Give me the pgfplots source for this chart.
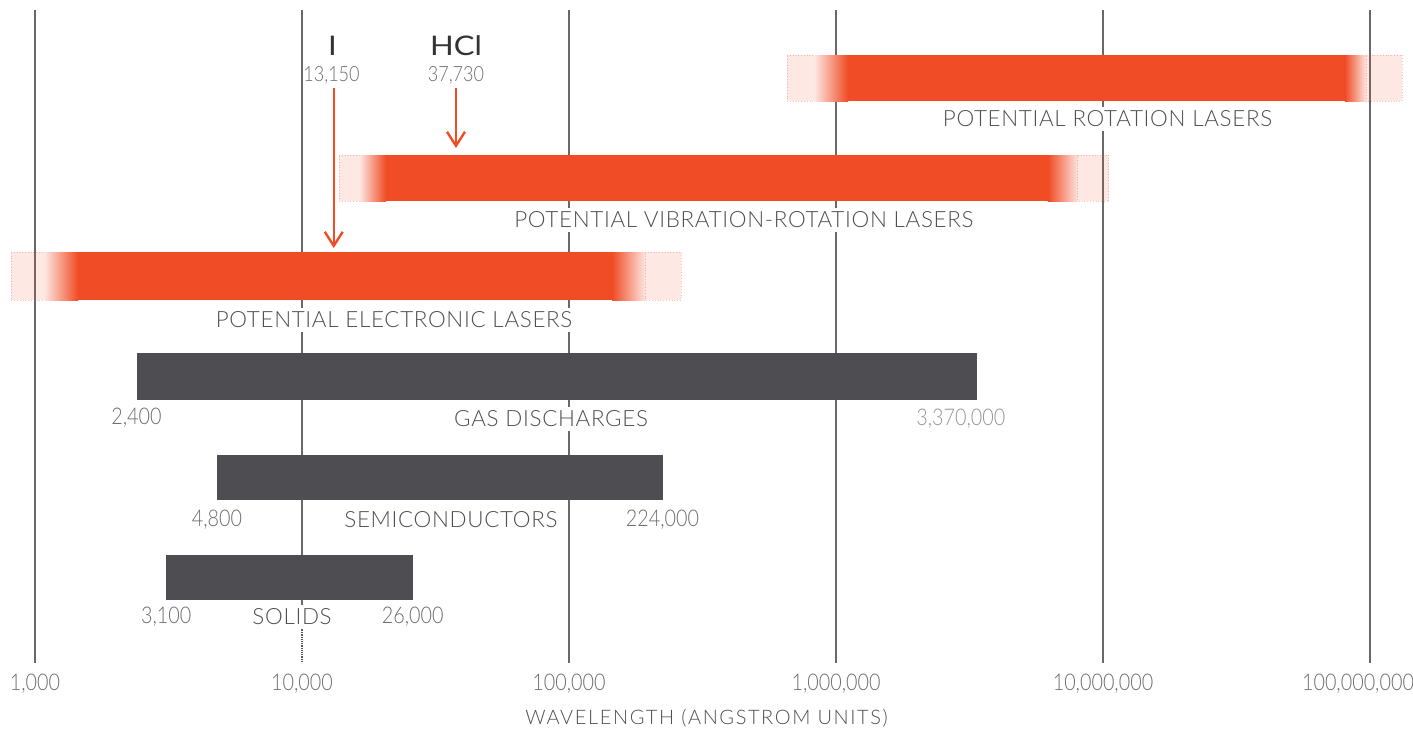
\documentclass[border=0pt]{standalone}
\usepackage{fontspec}
\setmainfont{Lato}[UprightFont=* Light]
\newfontfamily\markfont{Lato}[FakeStretch=1.15]
\newfontfamily\numfont{Lato}[UprightFont=* Light, FakeStretch=0.86]
\usepackage{pgfplots}
\pgfplotsset{compat=1.18}
\usetikzlibrary{arrows.meta}

\definecolor{laser}{RGB}{240,76,38}
\definecolor{source}{RGB}{78,77,82}
\definecolor{gridgray}{RGB}{105,105,105}
\definecolor{labgray}{RGB}{80,80,80}
\definecolor{numgray}{RGB}{110,110,110}
\definecolor{palegray}{RGB}{150,150,150}

\newcommand\labsize{\fontsize{11.2}{13}\selectfont\addfontfeatures{LetterSpace=3}}
\newcommand\axlabsize{\fontsize{10}{12}\selectfont\addfontfeatures{LetterSpace=8}}
\newcommand\numsize{\numfont\fontsize{11.5}{13}\selectfont}

\tikzset{
  barlabel/.style={fill=white, inner xsep=4pt, inner ysep=2pt, font=\labsize, text=labgray},
  numlabel/.style={fill=white, inner xsep=3pt, inner ysep=2pt, font=\numsize, text=numgray},
  pale/.style={fill=laser, fill opacity=0.13, draw=laser, draw opacity=0.35, densely dotted, line width=0.4pt},
}

\begin{document}
\begin{tikzpicture}
\begin{axis}[
  scale only axis,
  width=706.5pt, height=326.5pt,
  xmode=log, xmin=739.6, xmax=1.449e8,
  ymin=10, ymax=663, y dir=reverse,
  axis line style={draw=none},
  ytick=\empty,
  xtick={1000,10000,100000,1000000,10000000,100000000},
  xticklabels={{1,000},{10,000},{100,000},{1,000,000},{10,000,000},{\hspace*{-12pt}100,000,000}},
  major tick length=0pt, minor tick length=0pt,
  tick style={draw=none}, minor tick style={draw=none},
  xtick pos=bottom,
  xmajorgrids,
  grid style={color=gridgray, line width=0.7pt},
  xticklabel style={font=\numsize, text=numgray, yshift=-2pt},
  xlabel={WAVELENGTH (ANGSTROM UNITS)},
  xlabel style={font=\axlabsize, text=labgray, yshift=-1pt},
  clip=false,
]

% potential rotation lasers
\addplot[pale] coordinates {(655500,55) (834000,55) (834000,101) (655500,101)} -- cycle;
\addplot[draw=none, left color=laser!15, right color=laser] coordinates {(834000,55) (1.109e6,55) (1.109e6,101) (834000,101)} -- cycle;
\addplot[draw=none, fill=laser] coordinates {(1.109e6,55) (8.05e7,55) (8.05e7,101) (1.109e6,101)} -- cycle;
\addplot[draw=none, left color=laser, right color=laser!15] coordinates {(8.05e7,55) (9.66e7,55) (9.66e7,101) (8.05e7,101)} -- cycle;
\addplot[pale] coordinates {(9.66e7,55) (1.318e8,55) (1.318e8,101) (9.66e7,101)} -- cycle;

% potential vibration-rotation lasers
\addplot[pale] coordinates {(13770,155) (16480,155) (16480,201) (13770,201)} -- cycle;
\addplot[draw=none, left color=laser!15, right color=laser] coordinates {(16480,155) (20650,155) (20650,201) (16480,201)} -- cycle;
\addplot[draw=none, fill=laser] coordinates {(20650,155) (6.22e6,155) (6.22e6,201) (20650,201)} -- cycle;
\addplot[draw=none, left color=laser, right color=laser!15] coordinates {(6.22e6,155) (8.05e6,155) (8.05e6,201) (6.22e6,201)} -- cycle;
\addplot[pale] coordinates {(8.05e6,155) (1.052e7,155) (1.052e7,201) (8.05e6,201)} -- cycle;

% potential electronic lasers
\addplot[pale] coordinates {(813,252) (1090,252) (1090,300) (813,300)} -- cycle;
\addplot[draw=none, left color=laser!15, right color=laser] coordinates {(1090,252) (1449,252) (1449,300) (1090,300)} -- cycle;
\addplot[draw=none, fill=laser] coordinates {(1449,252) (144900,252) (144900,300) (1449,300)} -- cycle;
\addplot[draw=none, left color=laser, right color=laser!15] coordinates {(144900,252) (192800,252) (192800,300) (144900,300)} -- cycle;
\addplot[pale] coordinates {(192800,252) (262500,252) (262500,300) (192800,300)} -- cycle;

% existing sources
\addplot[draw=none, fill=source] coordinates {(2400,353) (3370000,353) (3370000,400) (2400,400)} -- cycle;
\addplot[draw=none, fill=source] coordinates {(4800,455) (224000,455) (224000,500) (4800,500)} -- cycle;
\addplot[draw=none, fill=source] coordinates {(3100,555) (26000,555) (26000,600) (3100,600)} -- cycle;

% lines of iodine and hydrogen chloride
\addplot[laser, line width=1.2pt, -{Straight Barb[length=7pt, width=9pt, line width=1.2pt]}] coordinates {(13150,88) (13150,248)};
\addplot[laser, line width=1.2pt, -{Straight Barb[length=7pt, width=9pt, line width=1.2pt]}] coordinates {(37730,88) (37730,148)};

% labels
\node[barlabel] at (axis cs:1.04e7,119) {POTENTIAL ROTATION LASERS};
\node[barlabel] at (axis cs:4.52e5,220) {POTENTIAL VIBRATION-ROTATION LASERS};
\node[barlabel] at (axis cs:22130,320) {POTENTIAL ELECTRONIC LASERS};
\node[barlabel] at (axis cs:85700,419) {GAS DISCHARGES};
\node[numlabel] at (axis cs:2400,418) {2,400};
\node[numlabel, text=palegray, xshift=-8pt] at (axis cs:3370000,419) {3,370,000};
\node[barlabel] at (axis cs:36130,520) {SEMICONDUCTORS};
\node[numlabel] at (axis cs:4800,520) {4,800};
\node[numlabel] at (axis cs:224000,520) {224,000};
\node[barlabel] at (axis cs:9180,617) {SOLIDS};
\node[numlabel] at (axis cs:3100,617) {3,100};
\node[numlabel] at (axis cs:26000,617) {26,000};

\node[font=\markfont\fontsize{13.5}{15}\selectfont, text=black!80] at (axis cs:13000,46) {I};
\node[font=\markfont\fontsize{13.5}{15}\selectfont, text=black!80] at (axis cs:37730,46) {HCl};
\node[font=\numfont\fontsize{10.5}{12}\selectfont, text=numgray] at (axis cs:12900,75) {13,150};
\node[font=\numfont\fontsize{10.5}{12}\selectfont, text=numgray] at (axis cs:37730,75) {37,730};

% dotted run of the 10,000 line below SOLIDS
\addplot[white, line width=2pt] coordinates {(10000,630) (10000,663)};
\addplot[gridgray!80!black, line width=0.8pt, dash pattern=on 0.6pt off 0.5pt] coordinates {(10000,630) (10000,663)};
\end{axis}
\pgfresetboundingbox
\path ([yshift=-33pt]current axis.south west) rectangle ([yshift=5pt]current axis.north east);
\end{tikzpicture}
\end{document}
